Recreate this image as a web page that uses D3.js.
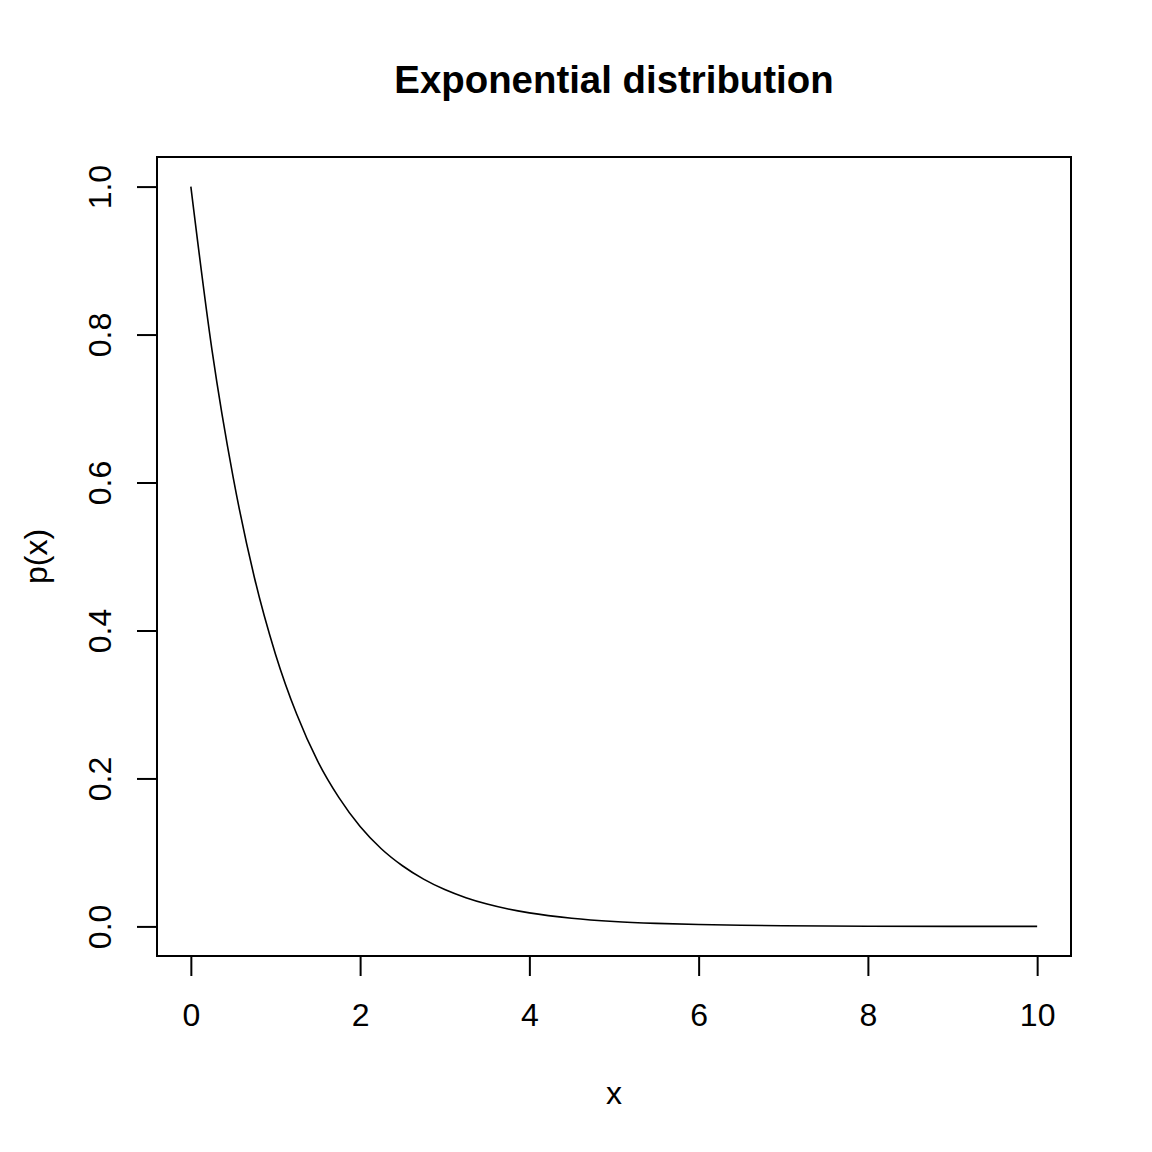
<!DOCTYPE html>
<html lang="en">
<head>
    <meta charset="UTF-8">
    <script src="https://cdnjs.cloudflare.com/ajax/libs/d3/7.8.5/d3.min.js"></script>
    <style>
        body { margin: 0; background: #fff; }
        text { font-family: "Liberation Sans", Arial, sans-serif; fill: #000; }
    </style>
</head>
<body>
<div id="chart"></div>
<script>
    // values
    var xValues = [0, 0.25, 0.5, 0.75, 1, 1.25, 1.5, 1.75, 2, 2.25, 2.5, 2.75, 3, 3.25, 3.5, 3.75, 4,
        4.5, 5, 5.5, 6, 6.5, 7, 8, 9, 10];
    var yValues = [1.000, 0.779, 0.607, 0.472, 0.368, 0.287, 0.223, 0.174, 0.135, 0.105, 0.082, 0.0639, 0.0498,
        0.0388, 0.0302, 0.0235, 0.0183, 0.0111, 0.0067, 0.0041, 0.0025, 0.0015, 0.0009, 0.0003, 0.0001, 0.0000];
    var xTicks = [0, 2, 4, 6, 8, 10];
    var yTicks = [0, 0.2, 0.4, 0.6, 0.8, 1.0];

    var width = 1152, height = 1152;
    var plotLeft = 157, plotRight = 1071, plotTop = 157, plotBottom = 956;

    var svg = d3.select("#chart")
        .append("svg")
        .attr("width", width)
        .attr("height", height);

    var x = d3.scaleLinear().domain([-0.4, 10.4]).range([plotLeft, plotRight]);
    var y = d3.scaleLinear().domain([-0.04, 1.04]).range([plotBottom, plotTop]);

    var points = xValues.map(function (d, i) {
        return [d, yValues[i]];
    });

    var line = d3.line()
        .x(function (d) { return x(d[0]); })
        .y(function (d) { return y(d[1]); })
        .curve(d3.curveMonotoneX);

    svg.append("path")
        .attr("d", line(points))
        .attr("fill", "none")
        .attr("stroke", "#000")
        .attr("stroke-width", 1.6);

    svg.append("rect")
        .attr("x", plotLeft)
        .attr("y", plotTop)
        .attr("width", plotRight - plotLeft)
        .attr("height", plotBottom - plotTop)
        .attr("fill", "none")
        .attr("stroke", "#000")
        .attr("stroke-width", 2);

    // x axis
    var xAxis = svg.append("g")
        .attr("transform", "translate(0," + plotBottom + ")")
        .call(d3.axisBottom(x).tickValues(xTicks).tickSize(20).tickPadding(27)
            .tickFormat(d3.format("d")));
    xAxis.attr("font-family", null).attr("font-size", null);
    xAxis.select(".domain")
        .attr("d", "M" + x(0) + ",0H" + x(10))
        .attr("stroke-width", 2);
    xAxis.selectAll(".tick line").attr("stroke-width", 2);
    xAxis.selectAll("text").style("font-size", "32px");

    // y axis, labels turned like R does
    var yAxis = svg.append("g")
        .attr("transform", "translate(" + plotLeft + ",0)")
        .call(d3.axisLeft(y).tickValues(yTicks).tickSize(20).tickFormat(d3.format(".1f")));
    yAxis.attr("font-family", null).attr("font-size", null);
    yAxis.select(".domain")
        .attr("d", "M0," + y(0) + "V" + y(1))
        .attr("stroke-width", 2);
    yAxis.selectAll(".tick line").attr("stroke-width", 2);
    yAxis.selectAll("text")
        .style("font-size", "32px")
        .attr("x", 0)
        .attr("y", 0)
        .attr("dy", null)
        .attr("text-anchor", "middle")
        .attr("transform", "translate(-46,0) rotate(-90)");

    svg.append("text")
        .attr("x", 614)
        .attr("y", 93)
        .attr("text-anchor", "middle")
        .style("font-size", "38.4px")
        .style("font-weight", "bold")
        .text("Exponential distribution");

    svg.append("text")
        .attr("x", (plotLeft + plotRight) / 2)
        .attr("y", 1104)
        .attr("text-anchor", "middle")
        .style("font-size", "32px")
        .text("x");

    svg.append("text")
        .attr("transform", "translate(47," + ((plotTop + plotBottom) / 2) + ") rotate(-90)")
        .attr("text-anchor", "middle")
        .style("font-size", "32px")
        .text("p(x)");
</script>
</body>
</html>
